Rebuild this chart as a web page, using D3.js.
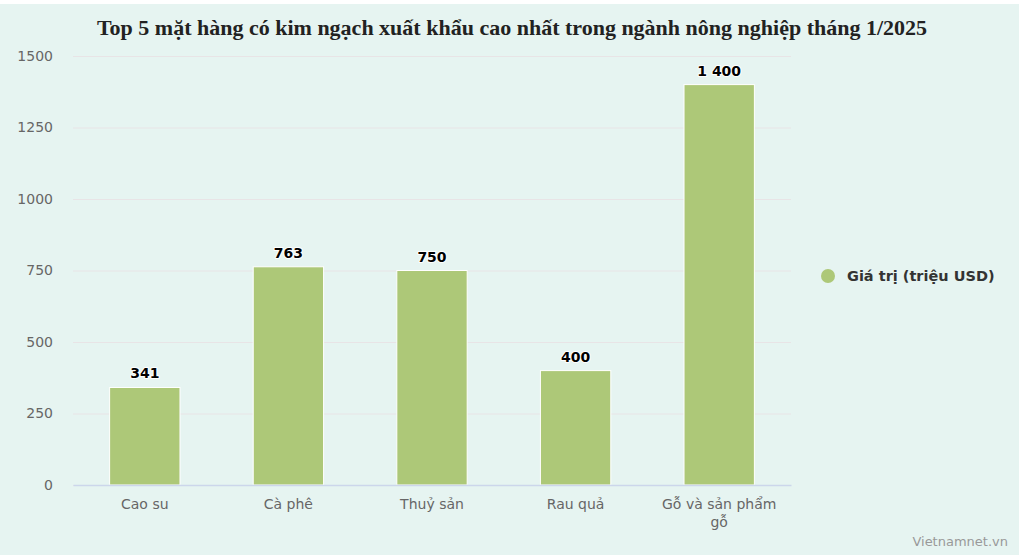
<!DOCTYPE html>
<html>
<head>
<meta charset="utf-8">
<script src="https://cdn.jsdelivr.net/npm/d3@7/dist/d3.min.js"></script>
<style>
html,body{margin:0;padding:0;background:#fff;}
svg{display:block;}
</style>
</head>
<body>
<svg id="chart" width="1024" height="555"></svg>
<script>
const title = "Top 5 mặt hàng có kim ngạch xuất khẩu cao nhất trong ngành nông nghiệp tháng 1/2025";
const categories = ["Cao su", "Cà phê", "Thuỷ sản", "Rau quả", "Gỗ và sản phẩm gỗ"];
const categoryLines = [["Cao su"], ["Cà phê"], ["Thuỷ sản"], ["Rau quả"], ["Gỗ và sản phẩm", "gỗ"]];
const values = [341, 763, 750, 400, 1400];
const valueLabels = ["341", "763", "750", "400", "1 400"];
const yTicks = [0, 250, 500, 750, 1000, 1250, 1500];
const seriesName = "Giá trị (triệu USD)";
const credit = "Vietnamnet.vn";

const svg = d3.select("#chart");
const W = 1024, H = 555;
const barColor = "#adc878";
const font = "'DejaVu Sans', Verdana, sans-serif";

svg.append("rect").attr("x", 0).attr("y", 4).attr("width", 1019).attr("height", H - 4).attr("fill", "#e6f4f1");

const m = {left: 73, right: 791, top: 56, bottom: 485};
const x = d3.scaleBand().domain(categories).range([m.left, m.right]).paddingInner(0.51).paddingOuter(0.255);
const y = d3.scaleLinear().domain([0, 1500]).range([m.bottom, m.top]);

// title
svg.append("text").attr("x", 512).attr("y", 35).attr("text-anchor", "middle")
  .attr("font-family", "'Liberation Serif', 'Times New Roman', serif").attr("font-weight", "bold")
  .attr("font-size", 22).attr("fill", "#222").text(title);

// grid
const yAxis = d3.axisLeft(y).tickValues(yTicks).tickSize(-(m.right - m.left)).tickFormat(d3.format("d"));
const gy = svg.append("g").attr("transform", `translate(${m.left},0)`).call(yAxis);
gy.select(".domain").remove();
gy.selectAll(".tick line").attr("stroke", "#e8e4e6").attr("stroke-width", 1);
gy.selectAll(".tick text").attr("x", -20).attr("font-family", font).attr("font-size", 14).attr("fill", "#666");

// bars
svg.append("g").selectAll("rect").data(values).join("rect")
  .attr("x", (d, i) => x(categories[i]))
  .attr("y", d => y(d))
  .attr("width", x.bandwidth())
  .attr("height", d => y(0) - y(d))
  .attr("fill", barColor).attr("stroke", "#fff").attr("stroke-width", 1);

// x axis
const xAxis = d3.axisBottom(x).tickSize(0).tickFormat("");
const gx = svg.append("g").attr("transform", `translate(0,${m.bottom})`).call(xAxis);
gx.select(".domain").attr("stroke", "#ccd6eb").attr("stroke-width", 1.5);

const xl = svg.append("g").selectAll("text").data(categories).join("text")
  .attr("x", d => x(d) + x.bandwidth() / 2).attr("y", 509)
  .attr("text-anchor", "middle").attr("font-family", font).attr("font-size", 14).attr("fill", "#666");
xl.each(function(d, i) {
  const t = d3.select(this);
  categoryLines[i].forEach((ln, j) => {
    t.append("tspan").attr("x", x(d) + x.bandwidth() / 2).attr("dy", j === 0 ? 0 : 18).text(ln);
  });
});

// data labels
svg.append("g").selectAll("text").data(values).join("text")
  .attr("x", (d, i) => x(categories[i]) + x.bandwidth() / 2)
  .attr("y", d => y(d) - 9)
  .attr("text-anchor", "middle").attr("font-family", font).attr("font-weight", "bold")
  .attr("font-size", 14).attr("fill", "#000")
  .attr("stroke", "#fff").attr("stroke-width", 2).attr("paint-order", "stroke").attr("stroke-linejoin", "round")
  .text((d, i) => valueLabels[i]);

// legend
const lg = svg.append("g").attr("transform", "translate(828,276)");
lg.append("circle").attr("r", 7).attr("fill", barColor);
lg.append("text").attr("x", 19).attr("y", 5).attr("font-family", font).attr("font-weight", "bold")
  .attr("font-size", 14.5).attr("fill", "#333").text(seriesName);

// credit
svg.append("text").attr("x", 1008).attr("y", 546).attr("text-anchor", "end")
  .attr("font-family", font).attr("font-size", 13).attr("fill", "#999").text(credit);
</script>
</body>
</html>
